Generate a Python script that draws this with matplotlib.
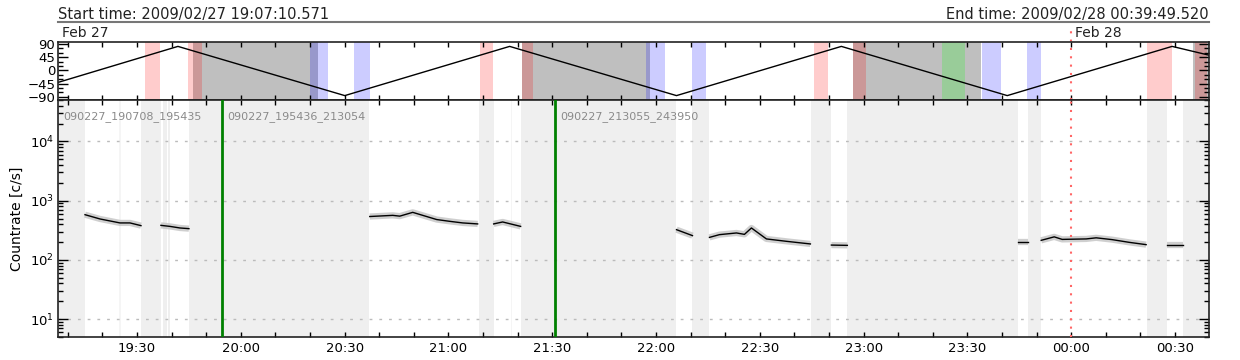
import matplotlib
matplotlib.use("Agg")
import matplotlib.pyplot as plt
from matplotlib.lines import Line2D
from matplotlib.ticker import MultipleLocator, FuncFormatter, LogLocator, NullFormatter, FixedLocator

# time axis in minutes after 2009/02/27 19:00
t_start = 7.18
t_end = 339.83
t_midnight = 300.0

# orbit latitude track (top panel)
orbit_t = [7.18, 41.84, 90.06, 137.71, 185.93, 233.58, 281.52, 329.16, 339.83]
orbit_lat = [-41, 82, -86, 82, -86, 82, -86, 82, 52]

saa_spans = [(46.17, 82.27), (141.18, 178.14), (237.05, 274.01), (335.17, 339.83)]
pink_spans = [(32.31, 36.64), (44.73, 48.77), (129.05, 132.80), (141.18, 144.35),
              (225.78, 229.83), (237.05, 240.80), (321.95, 329.10), (335.75, 339.21)]
blue_spans = [(79.96, 85.15), (92.66, 97.28), (176.98, 182.47), (190.27, 194.60),
              (274.30, 279.78), (287.29, 291.33)]
green_spans = [(262.75, 269.39)]

# data gaps (bottom panel)
gap_spans = [(7.18, 14.98), (31.16, 36.93), (37.5, 38.6), (39.1, 39.6), (45.02, 96.99),
             (128.76, 133.09), (140.89, 185.93), (190.55, 195.46), (224.92, 230.69),
             (235.31, 284.69), (287.58, 291.33), (321.95, 327.72), (332.34, 339.83)]
faint_spans = [(24.9, 25.3), (138.1, 138.5)]

# count rate segments
seg_t = [
    [14.98, 19.32, 25.09, 27.98, 31.16],
    [36.93, 39.53, 42.42, 45.02],
    [97.28, 103.92, 105.95, 109.70, 112.59, 116.63, 120.38, 124.14, 128.47],
    [133.09, 135.69, 140.89],
    [185.93, 190.55],
    [195.46, 198.35, 203.26, 205.57, 207.59, 209.03, 211.92, 217.70, 224.63],
    [230.69, 235.31],
    [284.69, 287.58],
    [291.33, 295.09, 297.40, 304.33, 307.22, 311.84, 316.75, 321.66],
    [327.72, 332.34],
]
seg_rate = [
    [580, 491, 421, 421, 379],
    [383, 368, 346, 337],
    [540, 565, 548, 635, 565, 480, 448, 421, 405],
    [405, 437, 368],
    [324, 257],
    [240, 267, 285, 270, 346, 300, 226, 206, 186],
    [178, 176],
    [200, 200],
    [214, 245, 222, 226, 236, 220, 198, 181],
    [181, 181],
]

file_starts = [7.13, 54.6, 150.92]
file_names = ["090227_190708_195435", "090227_195436_213054", "090227_213055_243950"]


def hhmm(m, pos=None):
    m = int(round(m))
    return "%02d:%02d" % ((19 + m // 60) % 24, m % 60)


fig = plt.figure(figsize=(12.4, 3.6), dpi=100)
L, W = 58 / 1240, 1151 / 1240
ax1 = fig.add_axes([L, 1 - 100 / 360, W, 58.3 / 360])
ax2 = fig.add_axes([L, 1 - 337 / 360, W, 237 / 360])

# top panel
for a, b in saa_spans:
    ax1.axvspan(a, b, color="black", alpha=0.25, lw=0)
for a, b in pink_spans:
    ax1.axvspan(a, b, color="red", alpha=0.2, lw=0)
for a, b in blue_spans:
    ax1.axvspan(a, b, color="blue", alpha=0.2, lw=0)
for a, b in green_spans:
    ax1.axvspan(a, b, color="#99CC99", lw=0)
ax1.plot(orbit_t, orbit_lat, color="black", lw=1)
ax1.axvline(t_midnight, ymin=0, ymax=1.235, color="#FF6666", lw=1.5,
            ls=(0, (1, 3)), clip_on=False)
ax1.set_xlim(t_start, t_end)
ax1.set_ylim(-101, 98)
ax1.set_yticks([90, 45, 0, -45, -90])
ax1.yaxis.set_minor_locator(MultipleLocator(15))
ax1.xaxis.set_major_locator(MultipleLocator(30))
ax1.xaxis.set_minor_locator(MultipleLocator(10))
ax1.tick_params(axis="x", which="both", direction="in", top=True, bottom=True,
                labelbottom=False, length=3.6, width=1)
ax1.tick_params(axis="y", which="major", direction="in", left=True, right=True,
                length=7, width=1, labelsize=9.5, pad=2)
ax1.tick_params(axis="y", which="minor", direction="in", left=True, right=True,
                length=3.6, width=1)

# bottom panel
for a, b in gap_spans:
    ax2.axvspan(a, b, color="#EFEFEF", lw=0, zorder=0)
for a, b in faint_spans:
    ax2.axvspan(a, b, color="#F5F5F5", lw=0, zorder=0)
for ts, rs in zip(seg_t, seg_rate):
    ax2.plot(ts, rs, color="#C4C4C4", lw=4.5, alpha=0.8, solid_capstyle="butt", zorder=2)
    ax2.plot(ts, rs, color="black", lw=1.0, zorder=3)
for t in file_starts[1:]:
    ax2.axvline(t, color="green", lw=2, zorder=4)
for t, name in zip(file_starts, file_names):
    ax2.annotate(name, (max(t, t_start), 0.932), xycoords=("data", "axes fraction"),
                 xytext=(3.6, 0), textcoords="offset points", va="center",
                 color="#8A8A8A", fontsize=8)
ax2.axvline(t_midnight, color="#FF6666", lw=1.5, ls=(0, (1, 3)), zorder=4)
ax2.set_yscale("log")
ax2.set_ylim(5, 5e4)
ax2.set_xlim(t_start, t_end)
ax2.yaxis.set_major_locator(FixedLocator([10, 100, 1000, 10000]))
ax2.yaxis.set_minor_locator(LogLocator(base=10, subs=range(2, 10)))
ax2.yaxis.set_minor_formatter(NullFormatter())
ax2.grid(axis="y", which="major", color="#BBBBBB", ls=(0, (2, 5)), lw=1)
ax2.xaxis.set_major_locator(MultipleLocator(30))
ax2.xaxis.set_minor_locator(MultipleLocator(10))
ax2.xaxis.set_major_formatter(FuncFormatter(hhmm))
ax2.tick_params(axis="x", which="both", direction="in", top=True, bottom=True,
                length=3.6, width=1, labelsize=9.5)
ax2.tick_params(axis="y", which="major", direction="in", left=True, right=True,
                length=7, width=1, labelsize=9.5, pad=3)
ax2.tick_params(axis="y", which="minor", direction="in", left=True, right=True,
                length=3.6, width=1)
ax2.set_ylabel("Countrate [c/s]", fontsize=10, labelpad=4)

for ax in (ax1, ax2):
    for s in ax.spines.values():
        s.set_linewidth(1.2)
        s.set_color("#222222")

# header
fig.text(L, 1 - 18.5 / 360, "Start time: 2009/02/27 19:07:10.571", fontsize=10.5,
         ha="left", va="baseline", color="#222222")
fig.text(L + W, 1 - 18.5 / 360, "End time: 2009/02/28 00:39:49.520", fontsize=10.5,
         ha="right", va="baseline", color="#222222")
fig.add_artist(Line2D([L, L + W], [1 - 22 / 360, 1 - 22 / 360], color="#777777", lw=1.5))
fig.text(62 / 1240, 1 - 37 / 360, "Feb 27", fontsize=10, ha="left", va="baseline",
         color="#222222")
ax1.annotate("Feb 28", (t_midnight, 1 - 37 / 360), xycoords=("data", "figure fraction"),
             xytext=(2.5, 0), textcoords="offset points", fontsize=10,
             ha="left", va="baseline", color="#222222", annotation_clip=False)

fig.savefig("out.png", dpi=100)
